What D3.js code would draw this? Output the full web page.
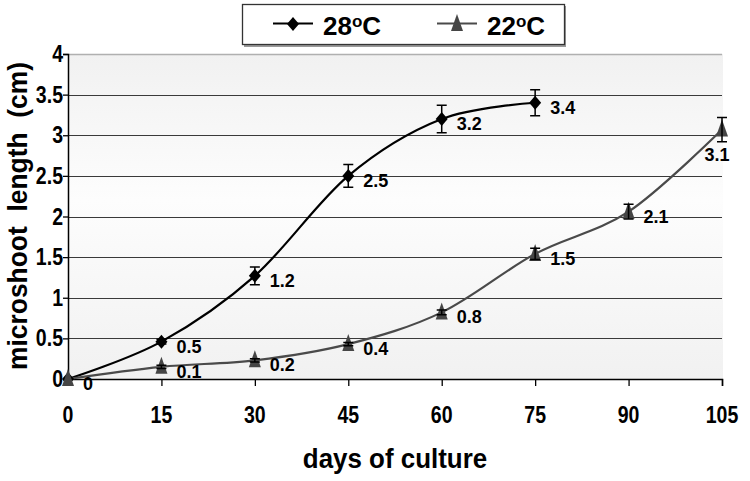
<!DOCTYPE html>
<html><head><meta charset="utf-8">
<script src="https://cdn.jsdelivr.net/npm/d3@7"></script>
<style>body{margin:0;background:#fff}svg{display:block}text{font-family:"Liberation Sans",Arial,sans-serif;font-weight:bold;fill:#000}</style>
</head><body><svg id="c" width="750" height="481"></svg>
<script>
const days28 = [0, 15, 30, 45, 60, 75];
const vals28 = [0, 0.46, 1.27, 2.5, 3.2, 3.4];
const err28 = [0, 0.03, 0.11, 0.14, 0.17, 0.16];
const lab28 = ["0", "0.5", "1.2", "2.5", "3.2", "3.4"];
const days22 = [0, 15, 30, 45, 60, 75, 90, 105];
const vals22 = [0, 0.15, 0.23, 0.43, 0.82, 1.54, 2.06, 3.07];
const err22 = [0, 0.02, 0.02, 0.02, 0.03, 0.07, 0.09, 0.15];
const lab22 = ["0", "0.1", "0.2", "0.4", "0.8", "1.5", "2.1", "3.1"];
const xTicks = [0, 15, 30, 45, 60, 75, 90, 105];
const yTicks = [0, 0.5, 1, 1.5, 2, 2.5, 3, 3.5, 4];
const yTickLabels = ["0", "0.5", "1", "1.5", "2", "2.5", "3", "3.5", "4"];
const seriesNames = ["28", "22"];

const svg = d3.select("#c");
const L = 68, R = 722, T = 54, B = 379;
const x = d3.scaleLinear().domain([0, 105]).range([L, R]);
const y = d3.scaleLinear().domain([0, 4]).range([B, T]);

// background gradient
const defs = svg.append("defs");
const g = defs.append("linearGradient").attr("id", "bg").attr("x1", 0).attr("y1", 0).attr("x2", 0).attr("y2", 1);
g.append("stop").attr("offset", "0").attr("stop-color", "#f1f1f1");
g.append("stop").attr("offset", "0.45").attr("stop-color", "#fdfdfd");
g.append("stop").attr("offset", "1").attr("stop-color", "#f1f1f1");
svg.append("rect").attr("x", L).attr("y", T).attr("width", R - L + 1).attr("height", B - T).attr("fill", "url(#bg)");
svg.append("line").attr("x1", L).attr("x2", R).attr("y1", T + 0.5).attr("y2", T + 0.5).attr("stroke", "#b0b0b0").attr("stroke-width", 1.5);

// gridlines
svg.append("g").selectAll("line").data(yTicks.filter(d => d > 0 && d < 4)).join("line")
  .attr("x1", L).attr("x2", R).attr("y1", d => Math.round(y(d)) + 0.5).attr("y2", d => Math.round(y(d)) + 0.5)
  .attr("stroke", "#3a3a3a").attr("stroke-width", 1.2);

// axes
const xa = svg.append("g").attr("transform", `translate(0,${B})`)
  .call(d3.axisBottom(x).tickValues(xTicks).tickSize(7).tickFormat(""));
xa.select(".domain").attr("stroke", "#000").attr("stroke-width", 1.5);
xa.selectAll(".tick line").attr("stroke", "#000").attr("stroke-width", 1.3);
const ya = svg.append("g").attr("transform", `translate(${L},0)`)
  .call(d3.axisLeft(y).tickValues(yTicks).tickSize(5).tickFormat(""));
ya.select(".domain").attr("stroke", "#000").attr("stroke-width", 1.5);
ya.selectAll(".tick line").attr("stroke", "#000").attr("stroke-width", 1.3);

// tick labels
svg.append("g").selectAll("text").data(xTicks).join("text")
  .attr("transform", d => `translate(${x(d)},423) scale(0.93,1.1)`)
  .attr("text-anchor", "middle").attr("font-size", 21).text(d => d);
svg.append("g").selectAll("text").data(yTicks).join("text")
  .attr("transform", d => `translate(63,${y(d) + 8}) scale(0.93,1.1)`)
  .attr("text-anchor", "end").attr("font-size", 21).text((d, i) => yTickLabels[i]);

// axis titles
svg.append("text").attr("transform", `translate(395,468) scale(1.08,1.12)`).attr("text-anchor", "middle")
  .attr("font-size", 24).text("days of culture");
svg.append("text").attr("transform", `translate(27,216) rotate(-90) scale(1.1,1.15)`).attr("text-anchor", "middle")
  .attr("font-size", 24).attr("xml:space", "preserve").text("microshoot  length  (cm)");

// series
const curve = d3.curveCardinal.tension(0);
const s28 = days28.map((d, i) => ({ d, v: vals28[i], e: err28[i], l: lab28[i] }));
const s22 = days22.map((d, i) => ({ d, v: vals22[i], e: err22[i], l: lab22[i] }));
const line = d3.line().x(p => x(p.d)).y(p => y(p.v)).curve(curve);
svg.append("path").attr("d", line(s28)).attr("fill", "none").attr("stroke", "#000").attr("stroke-width", 2.2);
svg.append("path").attr("d", line(s22)).attr("fill", "none").attr("stroke", "#4a4a4a").attr("stroke-width", 2.2);

const diamond = "M0,-7L6,0L0,7L-6,0Z";
const tri = "M0,-10L6,7L-6,7Z";
function markers(data, path, fill) {
  svg.append("g").selectAll("path").data(data).join("path")
    .attr("transform", p => `translate(${x(p.d)},${y(p.v)})`).attr("d", path).attr("fill", fill);
}
function errbars(data) {
  const gg = svg.append("g").attr("stroke", "#000").attr("stroke-width", 1.5).attr("fill", "none");
  data.filter(p => p.e > 0).forEach(p => {
    const cx = x(p.d), y1 = y(p.v + p.e), y2 = y(p.v - p.e);
    gg.append("path").attr("d", `M${cx},${y1}V${y2}M${cx - 5},${y1}H${cx + 5}M${cx - 5},${y2}H${cx + 5}`);
  });
}
markers(s28, diamond, "#000");
errbars(s28);
markers(s22, tri, "#454545");
errbars(s22);

// data labels
function labels(data) {
  svg.append("g").selectAll("text").data(data).join("text")
    .attr("x", p => p.d === 105 ? x(p.d) - 5 : x(p.d) + 15)
    .attr("y", p => p.d === 105 ? y(p.v) + 31 : y(p.v) + 11)
    .attr("text-anchor", p => p.d === 105 ? "middle" : "start")
    .attr("font-size", 18).text(p => p.l);
}
labels(s28.filter(p => p.d > 0));
labels(s22);

// legend
const lg = svg.append("g");
lg.append("rect").attr("x", 244).attr("y", 6).attr("width", 322).attr("height", 41).attr("fill", "#999");
lg.append("rect").attr("x", 242.5).attr("y", 4.5).attr("width", 322).attr("height", 40).attr("fill", "#fff").attr("stroke", "#333").attr("stroke-width", 1.3);
const legItems = [{ x0: 273, name: seriesNames[0], path: diamond, col: "#000", lc: "#000" }, { x0: 437, name: seriesNames[1], path: tri, col: "#454545", lc: "#4a4a4a" }];
legItems.forEach(it => {
  lg.append("line").attr("x1", it.x0).attr("x2", it.x0 + 40).attr("y1", 23.5).attr("y2", 23.5).attr("stroke", it.lc).attr("stroke-width", 2);
  lg.append("path").attr("transform", `translate(${it.x0 + 20},24)`).attr("d", it.path).attr("fill", it.col);
  const t = lg.append("text").attr("x", it.x0 + 50).attr("y", 35).attr("font-size", 26);
  t.append("tspan").text(it.name);
  t.append("tspan").attr("font-size", 17).attr("dy", -8).text("o");
  t.append("tspan").attr("dy", 8).text("C");
});
</script></body></html>
